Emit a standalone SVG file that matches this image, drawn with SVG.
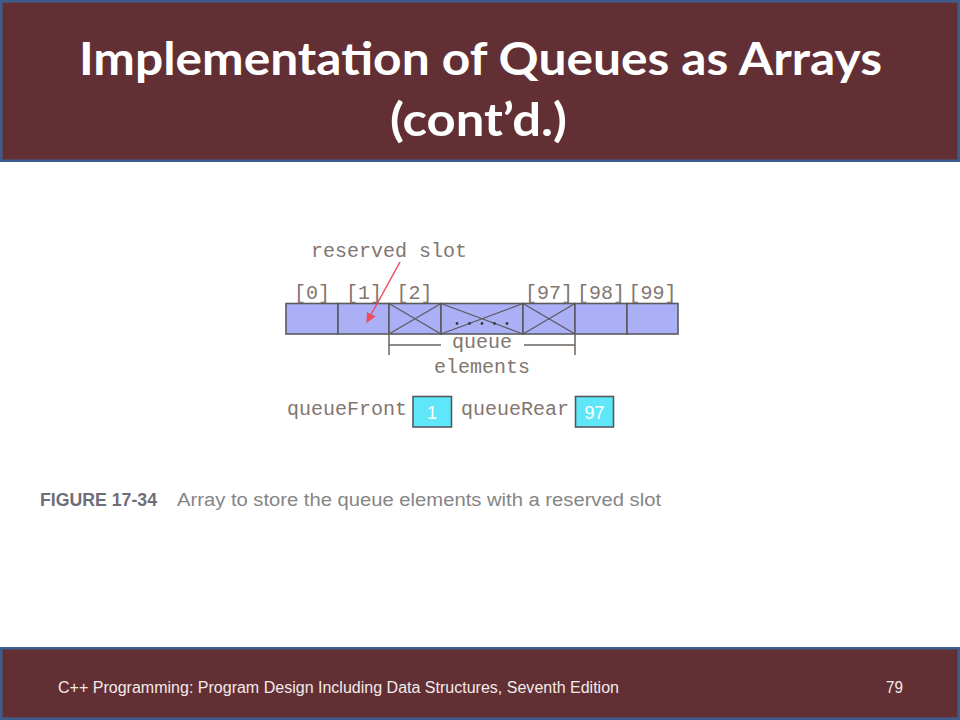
<svg xmlns="http://www.w3.org/2000/svg" width="960" height="720" viewBox="0 0 960 720">
<defs>
<style>
.band{fill:#623034;stroke:#3d5d8e;stroke-width:2.5}
.title{font-family:Lato,"Open Sans",sans-serif;font-weight:bold;font-size:46px;fill:#ffffff}
.foot{font-family:"Liberation Sans",Arial,sans-serif;font-size:16px;fill:#f2eaea}
.mono{font-family:"Liberation Mono","Courier New",monospace;font-size:20px;fill:#82766f}
.cell{fill:#abaff5;stroke:#5a5a5e;stroke-width:1.6}
.xl{stroke:#5a5a5e;stroke-width:1.3;fill:none}
.dim{stroke:#6e6660;stroke-width:1.5;fill:none}
.reg{fill:#5fe7f9;stroke:#55595c;stroke-width:1.6}
.regt{font-family:"Liberation Sans",Arial,sans-serif;font-size:18px;fill:#ffffff}
.cap{font-family:"Liberation Sans",Arial,sans-serif;font-size:18px;fill:#858585}
</style>
<marker id="ah" markerWidth="10" markerHeight="10" refX="9" refY="5" orient="auto" markerUnits="userSpaceOnUse">
<path d="M0,0 L10,5 L0,10 Z" fill="#f04c5c"/>
</marker>
</defs>
<rect width="960" height="720" fill="#ffffff"/>
<g id="header">
<rect class="band" x="1.25" y="1.25" width="957.5" height="159.5"/>
<text class="title" x="79" y="74.5" textLength="803" lengthAdjust="spacingAndGlyphs">Implementation of Queues as Arrays</text>
<text class="title" x="390" y="135.5" textLength="177" lengthAdjust="spacingAndGlyphs">(cont’d.)</text>
</g>
<g id="array">
<rect class="cell" x="286" y="303.5" width="52" height="30.5"/>
<rect class="cell" x="338" y="303.5" width="51" height="30.5"/>
<rect class="cell" x="389" y="303.5" width="52" height="30.5"/>
<rect class="cell" x="441" y="303.5" width="82" height="30.5"/>
<rect class="cell" x="523" y="303.5" width="52" height="30.5"/>
<rect class="cell" x="575" y="303.5" width="52" height="30.5"/>
<rect class="cell" x="627" y="303.5" width="51" height="30.5"/>
<path class="xl" d="M389,303.5 L441,334 M389,334 L441,303.5 M441,303.5 L523,334 M441,334 L523,303.5 M523,303.5 L575,334 M523,334 L575,303.5"/>
<g fill="#3a3a3e">
<circle cx="457" cy="323.5" r="1.4"/>
<circle cx="469.5" cy="323.5" r="1.4"/>
<circle cx="482" cy="323.5" r="1.4"/>
<circle cx="494.5" cy="323.5" r="1.4"/>
<circle cx="507" cy="323.5" r="1.4"/>
</g>
<text class="mono" x="312" y="299" text-anchor="middle">[0]</text>
<text class="mono" x="364" y="299" text-anchor="middle">[1]</text>
<text class="mono" x="414.5" y="299" text-anchor="middle">[2]</text>
<text class="mono" x="549" y="299" text-anchor="middle">[97]</text>
<text class="mono" x="601" y="299" text-anchor="middle">[98]</text>
<text class="mono" x="652.5" y="299" text-anchor="middle">[99]</text>
</g>
<g id="reserved-label">
<text class="mono" x="389" y="257" text-anchor="middle">reserved slot</text>
</g>
<g id="queue-elements-label">
<text class="mono" x="482" y="348" text-anchor="middle">queue</text>
<text class="mono" x="482" y="372.5" text-anchor="middle">elements</text>
</g>
<g id="connectors">
<line x1="400" y1="262" x2="367" y2="322" stroke="#f04c5c" stroke-width="1.5" marker-end="url(#ah)"/>
<path class="dim" d="M389,334 V355 M575,334 V355 M389,345 H441 M524,345 H575"/>
</g>
<g id="queueFront">
<text class="mono" x="287" y="415">queueFront</text>
<rect class="reg" x="413" y="396.5" width="38.5" height="30.5"/>
<text class="regt" x="432" y="418.5" text-anchor="middle">1</text>
</g>
<g id="queueRear">
<text class="mono" x="461" y="415">queueRear</text>
<rect class="reg" x="575.5" y="396.5" width="38" height="30.5"/>
<text class="regt" x="594.5" y="418.5" text-anchor="middle">97</text>
</g>
<g id="caption">
<text class="cap" x="40" y="506" font-weight="bold" style="fill:#6e6e78" textLength="117" lengthAdjust="spacingAndGlyphs">FIGURE 17-34</text>
<text class="cap" x="177" y="506" textLength="484" lengthAdjust="spacingAndGlyphs">Array to store the queue elements with a reserved slot</text>
</g>
<g id="footer">
<rect class="band" x="1.25" y="648.25" width="957.5" height="70.5"/>
<text class="foot" x="58" y="693" textLength="561" lengthAdjust="spacingAndGlyphs">C++ Programming: Program Design Including Data Structures, Seventh Edition</text>
<text class="foot" x="886" y="693" textLength="17" lengthAdjust="spacingAndGlyphs">79</text>
</g>
</svg>
